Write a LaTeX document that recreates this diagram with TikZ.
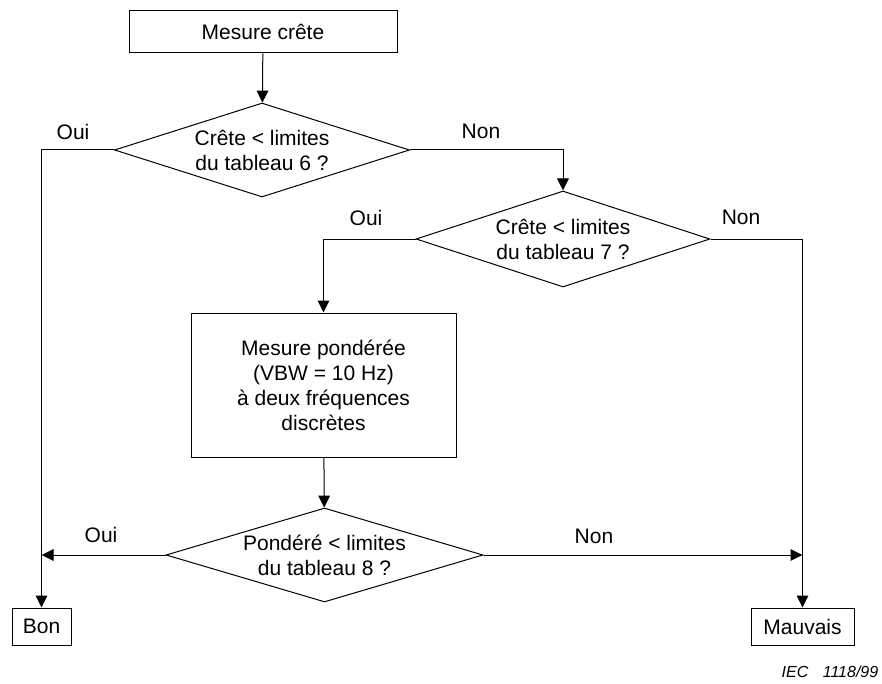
\documentclass[tikz,border=0pt]{standalone}
\usepackage{fontspec}
\setmainfont{Liberation Sans}
\usetikzlibrary{shapes.geometric,arrows.meta}

\tikzset{
  txt/.style={font=\fontsize{10.5pt}{12.5pt}\selectfont, align=center},
  boite/.style={txt, rectangle, draw, inner sep=0pt},
  choix/.style={txt, diamond, draw, inner sep=0pt, aspect=3.2},
  arr/.style={-{Triangle[length=6pt,width=5.8pt]}}
}

\begin{document}
\begin{tikzpicture}[x=0.5pt, y=-0.5pt, line width=0.5pt]
\useasboundingbox (0,0) rectangle (882,684);

%Steps and tests.
\node(crete) at (263,32) [boite, minimum width=134pt, minimum height=21pt] {Mesure crête};
\node(test6) at (262,150) [choix, minimum width=147.5pt, minimum height=47pt] {Crête < limites\\du tableau 6 ?};
\node(test7) at (563,239) [choix, minimum width=147pt, minimum height=48pt] {Crête < limites\\du tableau 7 ?};
\node(pond) at (323.5,385) [boite, minimum width=132.5pt, minimum height=72pt] {Mesure pondérée\\(VBW = 10 Hz)\\à deux fréquences\\discrètes};
\node(test8) at (324.5,555) [choix, minimum width=158.5pt, minimum height=47pt] {Pondéré < limites\\du tableau 8 ?};
\node(bon) at (41.5,626.5) [boite, minimum width=29.5pt, minimum height=18.5pt] {Bon};
\node(mauvais) at (802.5,626.5) [boite, minimum width=51.5pt, minimum height=18.5pt] {Mauvais};

%Branch labels.
\node(oui6) at (73,132) [txt] {Oui};
\node(non6) at (481,131) [txt] {Non};
\node(oui7) at (366,218) [txt] {Oui};
\node(non7) at (741,217) [txt] {Non};
\node(oui8) at (101,535) [txt] {Oui};
\node(non8) at (594,536) [txt] {Non};

\coordinate(jbon) at (bon.north |- test8.west);
\coordinate(jmau) at (mauvais.north |- test8.east);

\draw[arr] (crete) -- (test6);
\draw[arr] (test6.west) -| (bon.north);
\draw[arr] (test6.east) -| (test7.north);
\draw[arr] (test7.west) -| (pond.north);
\draw[arr] (test7.east) -| (mauvais.north);
\draw[arr] (pond) -- (test8);
\draw[arr] (test8.west) -- (jbon);
\draw[arr] (test8.east) -- (jmau);

\node(ref) at (830,672) [font=\fontsize{8pt}{9.5pt}\selectfont\itshape] {IEC\hspace{0.9em}1118/99};
\end{tikzpicture}
\end{document}
